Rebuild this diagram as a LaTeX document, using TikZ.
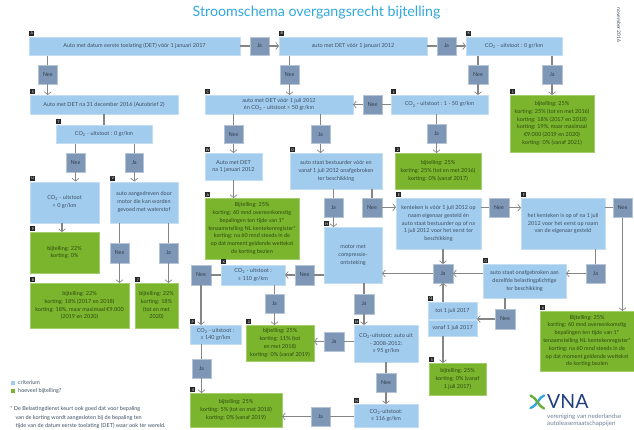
\documentclass[tikz,border=0pt]{standalone}
\usepackage{fontspec}
\setmainfont{Lato}
\usetikzlibrary{arrows.meta,calc}
\definecolor{boxblue}{HTML}{A2CCEE}
\definecolor{boxedge}{HTML}{C3DDF3}
\definecolor{pillblue}{HTML}{7F97B6}
\definecolor{pilledge}{HTML}{B4C3D6}
\definecolor{boxgreen}{HTML}{7AB52D}
\definecolor{greenedge}{HTML}{A4CE6E}
\definecolor{linegray}{HTML}{858585}
\definecolor{inkblue}{HTML}{3C4F63}
\definecolor{inkgreen}{HTML}{2F4A12}
\definecolor{titlecyan}{HTML}{2FA8DE}
\definecolor{navy}{HTML}{1F3F7F}
\definecolor{vnatext}{HTML}{6F8098}
\tikzset{
  basebox/.style={inner sep=0pt,align=center,font=\fontsize{5.5}{7.8}\selectfont,line width=.5pt},
  crit/.style={basebox,fill=boxblue,draw=boxedge,text=inkblue},
  uitk/.style={basebox,fill=boxgreen,draw=greenedge,text=inkgreen},
  pill/.style={basebox,fill=pillblue,draw=pilledge,text=inkblue!80!black},
  ln/.style={draw=linegray,line width=1.1pt},
  arr/.style={ln,-{Straight Barb[length=2.8pt,width=7pt,line width=.7pt]}},
  tagbox/.style={fill=black!85,text=white,inner sep=0pt,minimum width=5.2pt,minimum height=5.2pt,font=\fontsize{3.6}{4}\selectfont},
  plain/.style={inner sep=0pt,text=inkblue,font=\fontsize{5.5}{8.3}\selectfont,anchor=west,align=left}
}
\newcommand{\bx}[7]{%
  \pgfmathsetmacro\cxx{(#3+#5)/2}\pgfmathsetmacro\cyy{(#4+#6)/2}%
  \pgfmathsetmacro\wdd{#5-#3-.5}\pgfmathsetmacro\htt{#6-#4-.5}%
  \node[#2,minimum width=\wdd pt,minimum height=\htt pt] (#1) at (\cxx,\cyy) {#7};}
\newcommand{\tg}[2]{\node[tagbox,anchor=south west] (tag#1) at ($(#1.north west)+(0,-.4)$) {#2};}
\newcommand{\COt}{CO\textsubscript{2}}
\begin{document}
\begin{tikzpicture}[x=1pt,y=-1pt]
\useasboundingbox (0,0) rectangle (634,429);
\node[inner sep=0pt,text=titlecyan,font=\fontsize{14.2}{18}\selectfont] (title) at (316.5,13) {Stroomschema overgangsrecht bijtelling};
\node[inner sep=0pt,rotate=-90,text=inkblue,font=\fontsize{5}{6}\selectfont] (datum) at (619,25) {november 2016};

% criteria
\bx{A}{crit}{29}{36.5}{240}{55.5}{Auto met datum eerste toelating (DET) vóór 1 januari 2017}
\bx{B}{crit}{279}{36.5}{427}{55.5}{auto met DET vóór 1 januari 2012}
\bx{K}{crit}{466}{36.5}{562}{55.5}{\COt{} - uitstoot : 0 gr/km}
\bx{S}{crit}{30}{95}{178}{114}{Auto met DET na 31 december 2016 (Autobrief 2)}
\bx{C}{crit}{205}{95}{353}{114}{auto met DET vóór 1 juli 2012\\én \COt{} - uitstoot > 50 gr/km}
\bx{L}{crit}{391}{95}{488}{114}{\COt{} - uitstoot : 1 - 50 gr/km}
\bx{T}{crit}{56}{125}{152}{143.5}{\COt{} - uitstoot : 0 gr/km}
\bx{U}{crit}{30}{181.5}{99}{223}{\COt{} - uitstoot\\> 0 gr/km}
\bx{V}{crit}{110}{181.5}{178}{223}{auto aangedreven door\\motor die kan worden\\gevoed met waterstof}
\bx{W}{crit}{205}{153}{262}{180}{Auto met DET\\na 1 januari 2012}
\bx{D}{crit}{290}{153}{382}{189}{auto staat bestuurder vóór en\\vanaf 1 juli 2012 onafgebroken\\ter beschikking}
\bx{H}{crit}{324}{227}{382}{283}{motor met\\compressie-\\ontsteking}
\bx{E}{crit}{396}{198}{481}{249}{kenteken is vóór 1 juli 2012 op\\naam eigenaar gesteld én\\auto staat bestuurder op of na\\1 juli 2012 voor het eerst ter\\beschikking}
\bx{F}{crit}{521}{198}{605}{249}{het kenteken is op of na 1 juli\\2012 voor het eerst op naam\\van de eigenaar gesteld}
\bx{G}{crit}{483}{264}{566}{298}{auto staat onafgebroken aan\\dezelfde belastingplichtige\\ter beschikking}
\bx{X}{crit}{221}{265}{285}{285}{\COt{} - uitstoot :\\≤ 110 gr/km}
\bx{P}{crit}{190}{325}{241}{344}{\COt{} - uitstoot :\\≤ 140 gr/km}
\bx{M}{crit}{354}{325}{418}{362}{\COt{}-uitstoot: auto uit\\- 2008-2012:\\≤ 95 gr/km}
\bx{N}{crit}{354}{404}{418}{427}{\COt{}-uitstoot:\\≤ 116 gr/km}
\bx{Tot}{crit}{428}{302}{477}{319.5}{tot 1 juli 2017}
\bx{Van}{crit}{428}{319.5}{477}{336}{vanaf 1 juli 2017}

% uitkomsten
\bx{gT}{uitk}{510}{95}{594}{152}{bijtelling: 25\%\\korting: 25\% (tot en met 2016)\\korting: 18\% (2017 en 2018)\\korting: 19\%, maar maximaal\\€9.000 (2019 en 2020)\\korting: 0\% (vanaf 2021)}
\bx{gL}{uitk}{395}{153}{481}{189}{bijtelling: 25\%\\korting: 25\% (tot en met 2016)\\korting: 0\% (vanaf 2017)}
\bx{gQ}{uitk}{30}{232}{99}{273}{bijtelling: 22\%\\korting: 0\%}
\bx{gR}{uitk}{30}{283}{129}{328}{bijtelling: 22\%\\korting: 18\% (2017 en 2018)\\korting: 18\%, maar maximaal €9.000\\(2019 en 2020)}
\bx{gZ}{uitk}{135}{283}{178}{328}{bijtelling: 22\%\\korting: 18\%\\(tot en met\\2020)}
\bx{gW}{uitk}{205}{198}{299}{259}{Bijtelling: 25\%\\korting: 60 mnd overeenkomstig\\bepalingen ten tijde van 1\textsuperscript{e}\\tenaamstelling NL kentekenregister*\\korting: na 60 mnd steeds in de\\op dat moment geldende wettekst\\de korting bezien}
\bx{gJ}{uitk}{246}{325}{314}{361}{bijtelling: 25\%\\korting: 11\% (tot\\en met 2018)\\korting: 0\% (vanaf 2019)}
\bx{gK}{uitk}{190}{393}{282}{427}{bijtelling: 25\%\\korting: 5\% (tot en met 2018)\\korting: 0\% (vanaf 2019)}
\bx{gV}{uitk}{429}{363}{486}{395}{bijtelling: 25\%\\korting: 0\% (vanaf\\1 juli 2017)}
\bx{gF}{uitk}{540}{311}{634}{371}{Bijtelling: 25\%\\korting: 60 mnd overeenkomstig\\bepalingen ten tijde van 1\textsuperscript{e}\\tenaamstelling NL kentekenregister*\\korting: na 60 mnd steeds in de\\op dat moment geldende wettekst\\de korting bezien}

% ja / nee
\bx{pAj}{pill}{250}{36.5}{269}{55.5}{Ja}
\bx{pBj}{pill}{437}{36.5}{456}{55.5}{Ja}
\bx{pAn}{pill}{38}{65}{57.5}{84}{Nee}
\bx{pBn}{pill}{280}{65}{299}{84}{Nee}
\bx{pKn}{pill}{468}{65}{488}{84}{Nee}
\bx{pKj}{pill}{542}{65}{562}{84}{Ja}
\bx{pLn}{pill}{363}{95}{382}{114}{Nee}
\bx{pLj}{pill}{427}{123.5}{446}{143}{Ja}
\bx{pCn}{pill}{224}{125}{243}{143.5}{Nee}
\bx{pCj}{pill}{311}{125}{330}{143.5}{Ja}
\bx{pTn}{pill}{66}{153}{85}{172}{Nee}
\bx{pTj}{pill}{125}{153}{143.5}{172}{Ja}
\bx{pVn}{pill}{110}{243}{129}{263}{Nee}
\bx{pVj}{pill}{159}{243}{178}{263}{Ja}
\bx{pDj}{pill}{324}{198}{343}{217}{Ja}
\bx{pDn}{pill}{362}{197.5}{382}{217}{Nee}
\bx{pEn}{pill}{489}{198}{509}{217.5}{Nee}
\bx{pFn}{pill}{613}{198}{632}{217.5}{Nee}
\bx{pEj}{pill}{433}{264}{453}{283}{Ja}
\bx{pFj}{pill}{586}{264}{605}{283}{Ja}
\bx{pGn}{pill}{495}{309}{515}{329}{Nee}
\bx{pHn}{pill}{295}{265}{314}{285}{Nee}
\bx{pXn}{pill}{191}{265}{211}{285}{Nee}
\bx{pXj}{pill}{265}{294}{284}{313}{Ja}
\bx{pHj}{pill}{354}{294}{374}{314}{Ja}
\bx{pMj}{pill}{324}{332}{344}{351}{Ja}
\bx{pMn}{pill}{376}{373}{396}{392}{Nee}
\bx{pNj}{pill}{311}{407}{330}{426}{Ja}
\bx{pPj}{pill}{192}{359}{211}{378}{Ja}

% connectors
\draw[ln] (A.east) -- (pAj.west);
\draw[arr] (pAj.east) -- (B.west);
\draw[ln] (B.east) -- (pBj.west);
\draw[arr] (pBj.east) -- (K.west);
\draw[ln] (A.south -| pAn) -- (pAn.north);
\draw[arr] (pAn.south) -- (pAn.south |- S.north);
\draw[ln] (B.south -| pBn) -- (pBn.north);
\draw[arr] (pBn.south) -- (pBn.south |- C.north);
\draw[ln] (K.south -| pKn) -- (pKn.north);
\draw[arr] (pKn.south) -- (pKn.south |- L.north);
\draw[ln] (K.south -| pKj) -- (pKj.north);
\draw[arr] (pKj.south) -- (pKj.south |- gT.north);
\draw[ln] (L.west) -- (pLn.east);
\draw[arr] (pLn.west) -- (C.east);
\draw[ln] (L.south -| pLj) -- (pLj.north);
\draw[arr] (pLj.south) -- (pLj.south |- gL.north);
\draw[ln] (S.south -| T) -- (T.north);
\draw[ln] (C.south -| pCn) -- (pCn.north);
\draw[arr] (pCn.south) -- (pCn.south |- W.north);
\draw[ln] (C.south -| pCj) -- (pCj.north);
\draw[arr] (pCj.south) -- (pCj.south |- D.north);
\draw[ln] (T.south -| pTn) -- (pTn.north);
\draw[arr] (pTn.south) -- (pTn.south |- U.north);
\draw[ln] (T.south -| pTj) -- (pTj.north);
\draw[arr] (pTj.south) -- (pTj.south |- V.north);
\draw[arr] ($(U.south)+(-2.5,0)$) -- ($(U.south |- gQ.north)+(-2.5,0)$);
\draw[ln] (V.south -| pVn) -- (pVn.north);
\draw[arr] (pVn.south) -- (pVn.south |- gR.north);
\draw[ln] (V.south -| pVj) -- (pVj.north);
\draw[arr] (pVj.south) -- (pVj.south |- gZ.north);
\draw[arr] (W.south) -- (W.south |- gW.north);
\draw[ln] (D.south -| pDj) -- (pDj.north);
\draw[arr] (pDj.south) -- (pDj.south |- H.north);
\draw[ln] (D.south -| pDn) -- (pDn.north);
\draw[arr] (pDn.east) -- (pDn.east -| E.west);
\draw[ln] (pEn.west -| E.east) -- (pEn.west);
\draw[arr] (pEn.east) -- (pEn.east -| F.west);
\draw[ln] (pFn.west -| F.east) -- (pFn.west);
\draw[arr] (pFn.south) -- (pFn.south |- gF.north);
\draw[arr] (E.south -| pEj) -- (pEj.north);
\draw[arr] (Tot.north -| pEj) -- (pEj.south);
\draw[arr] (G.west |- pEj) -- (pEj.east);
\draw[arr] (pEj.west) -- (pEj.west -| H.east);
\draw[ln] (F.south -| pFj) -- (pFj.north);
\draw[arr] (pFj.west) -- (pFj.west -| G.east);
\draw[ln] (G.south -| pGn) -- (pGn.north);
\draw[arr] (pGn.west) -- (pGn.west -| Tot.east);
\draw[arr] (Van.south -| pEj) -- (gV.north -| pEj);
\draw[ln] (H.west |- pHn) -- (pHn.east);
\draw[arr] (pHn.west) -- (pHn.west -| X.east);
\draw[ln] (X.west) -- (X.west -| pXn.east);
\draw[arr] (pXn.south) -- (pXn.south |- P.north);
\draw[ln] (X.south -| pXj) -- (pXj.north);
\draw[arr] (pXj.south) -- (pXj.south |- gJ.north);
\draw[ln] (H.south -| pHj) -- (pHj.north);
\draw[arr] (pHj.south) -- (pHj.south |- M.north);
\draw[ln] (M.west |- pMj) -- (pMj.east);
\draw[arr] (pMj.west) -- (pMj.west -| gJ.east);
\draw[ln] (M.south -| pMn) -- (pMn.north);
\draw[arr] (pMn.south) -- (pMn.south |- N.north);
\draw[ln] (N.west |- pNj) -- (pNj.east);
\draw[arr] (pNj.west) -- (pNj.west -| gK.east);
\draw[ln] (P.south -| pPj) -- (pPj.north);
\draw[arr] (pPj.south) -- (pPj.south |- gK.north);

% tags
\tg{A}{A}\tg{B}{B}\tg{K}{K}\tg{S}{S}\tg{C}{C}\tg{L}{L}\tg{T}{T}\tg{U}{U}\tg{V}{V}\tg{W}{W}\tg{D}{D}\tg{H}{H}\tg{E}{E}\tg{F}{F}\tg{G}{G}\tg{X}{X}\tg{P}{P}\tg{M}{M}\tg{N}{N}\tg{Tot}{Q}
\tg{gT}{1}\tg{gL}{2}\tg{gQ}{9}\tg{gR}{8}\tg{gZ}{7}\tg{gW}{A}\tg{gJ}{3}\tg{gK}{4}\tg{gV}{5}\tg{gF}{6}

% legend
\node[fill=boxblue,minimum size=4pt,inner sep=0pt] (lgA) at (13,383) {};
\node[fill=boxgreen,minimum size=4pt,inner sep=0pt] (lgB) at (13,391) {};
\node[plain] (lgAt) at (18,383) {criterium};
\node[plain] (lgBt) at (18,391) {hoeveel bijtelling?};
\node[plain] (noot) at (10,417.5) {* De Belastingdienst keurt ook goed dat voor bepaling\\\hspace*{5.4pt}van de korting wordt aangesloten bij de bepaling ten\\\hspace*{5.4pt}tijde van de datum eerste toelating (DET) waar ook ter wereld.};

% logo
\draw[line width=2.4pt,color=titlecyan,line cap=round] (544,395.5) .. controls (539,397) and (538,405) .. (530.5,408);
\draw[line width=2.4pt,color=boxgreen!85!teal,line cap=round] (530.5,395.5) .. controls (537,398) and (538,406) .. (544,408.5);
\node[inner sep=0pt,anchor=west,text=navy,font=\fontsize{19.5}{20}\selectfont] (vna) at (547,402) {VNA};
\node[inner sep=0pt,anchor=west,text=vnatext,align=left,font=\fontsize{6.2}{7.3}\selectfont] (vnat) at (547,420) {vereniging van nederlandse\\autoleasemaatschappijen};
\end{tikzpicture}
\end{document}
